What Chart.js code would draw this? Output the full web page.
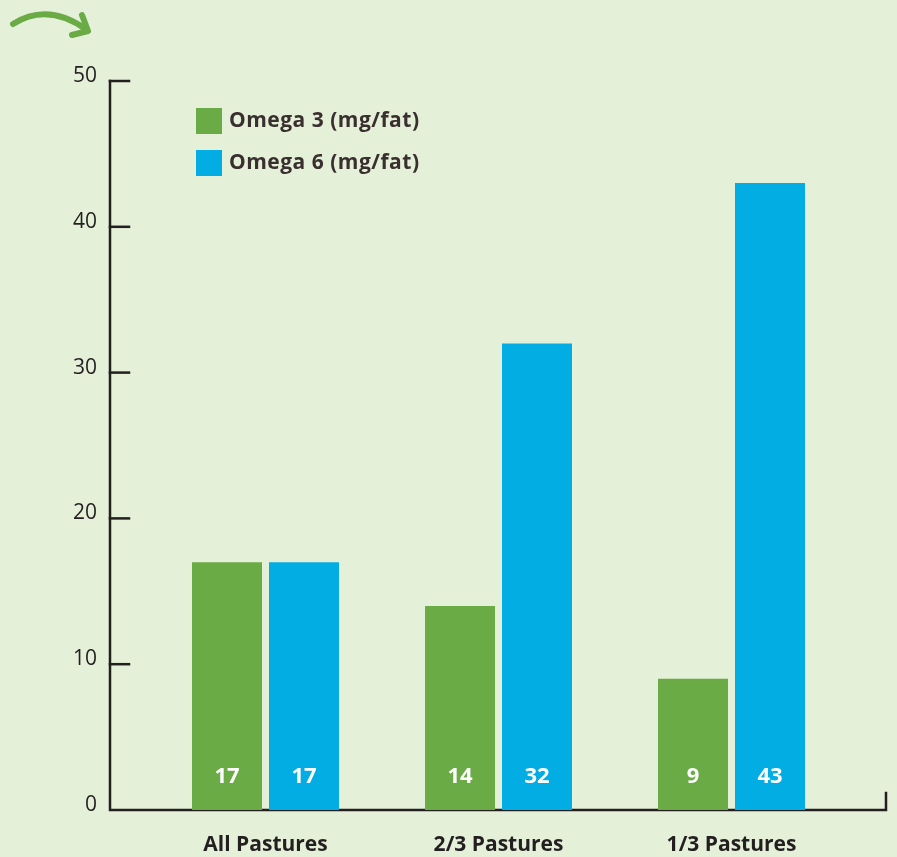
<!DOCTYPE html>
<html>
<head>
<meta charset="utf-8">
<script src="https://cdn.jsdelivr.net/npm/chart.js@4.4.1/dist/chart.umd.min.js"></script>
<style>
html, body { margin: 0; padding: 0; background: #e5f0d8; }
#wrap { width: 897px; height: 857px; }
</style>
</head>
<body>
<div id="wrap"><canvas id="myChart" width="897" height="857"></canvas></div>
<script>
// data
var categories = ['All Pastures', '2/3 Pastures', '1/3 Pastures'];
var omega3 = [17, 14, 9];
var omega6 = [17, 32, 43];
var seriesNames = ['Omega 3 (mg/fat)', 'Omega 6 (mg/fat)'];
var yTicks = [0, 10, 20, 30, 40, 50];

var GREEN = '#6aab45';
var BLUE = '#02ade3';
var INK = '#231f20';
var FONT = '"Open Sans", Lato, sans-serif';

// background + the little arrow in the corner
var backdrop = {
    id: 'backdrop',
    beforeDraw: function (chart) {
        var c = chart.ctx;
        c.save();
        c.fillStyle = '#e5f0d8';
        c.fillRect(0, 0, chart.width, chart.height);
        c.strokeStyle = GREEN;
        c.lineWidth = 6;
        c.lineCap = 'round';
        c.lineJoin = 'round';
        c.beginPath();
        c.moveTo(13, 24);
        c.quadraticCurveTo(48, 2, 87, 30);
        c.stroke();
        c.beginPath();
        c.moveTo(82, 15);
        c.lineTo(88, 31);
        c.lineTo(72, 35);
        c.stroke();
        c.restore();
    }
};

// axis lines drawn outside the plot box, like the original
var axes = {
    id: 'axes',
    beforeDatasetsDraw: function (chart) {
        var c = chart.ctx, y = chart.scales.y, a = chart.chartArea;
        var left = a.left - 39, right = a.right + 38;
        var y0 = y.getPixelForValue(0), yTop = y.getPixelForValue(50);
        c.save();
        c.strokeStyle = INK;
        c.lineWidth = 2.5;
        c.lineCap = 'square';
        c.beginPath();
        c.moveTo(left, yTop);
        c.lineTo(left, y0);
        c.lineTo(right, y0);
        c.lineTo(right, y0 - 17);
        c.stroke();
        yTicks.forEach(function (v) {
            if (v === 0) return;
            var py = y.getPixelForValue(v);
            c.beginPath();
            c.moveTo(left, py);
            c.lineTo(left + 19, py);
            c.stroke();
        });
        c.restore();
    }
};

// white numbers near the foot of each bar
var barValues = {
    id: 'barValues',
    afterDatasetsDraw: function (chart) {
        var c = chart.ctx;
        c.save();
        c.fillStyle = '#ffffff';
        c.font = 'bold 22px ' + FONT;
        c.textAlign = 'center';
        c.textBaseline = 'middle';
        chart.data.datasets.forEach(function (ds, i) {
            chart.getDatasetMeta(i).data.forEach(function (bar, j) {
                c.fillText(String(ds.data[j]), bar.x, bar.base - 33);
            });
        });
        c.restore();
    }
};

// legend in the top left of the plot
var boxLegend = {
    id: 'boxLegend',
    afterDraw: function (chart) {
        var c = chart.ctx, a = chart.chartArea;
        c.save();
        c.font = 'bold 21px ' + FONT;
        c.letterSpacing = '0.5px';
        c.textBaseline = 'middle';
        chart.data.datasets.forEach(function (ds, i) {
            var x = a.left + 47, y = a.top + 27 + i * 42;
            c.fillStyle = ds.backgroundColor;
            c.fillRect(x, y, 26, 26);
            c.fillStyle = '#3a2f2f';
            c.fillText(ds.label, x + 33, y + 13);
        });
        c.restore();
    }
};

var config = {
    type: 'bar',
    data: {
        labels: categories,
        datasets: [{
            label: seriesNames[0],
            data: omega3,
            backgroundColor: GREEN,
            barPercentage: 0.909,
            categoryPercentage: 0.661
        }, {
            label: seriesNames[1],
            data: omega6,
            backgroundColor: BLUE,
            barPercentage: 0.909,
            categoryPercentage: 0.661
        }]
    },
    options: {
        responsive: false,
        animation: false,
        layout: { padding: { top: 81, right: 49, left: 0, bottom: 0 } },
        plugins: {
            legend: { display: false },
            tooltip: { enabled: false }
        },
        scales: {
            x: {
                grid: { display: false, drawTicks: false },
                border: { display: false },
                ticks: {
                    color: INK,
                    font: { family: FONT, size: 21, weight: 'bold' },
                    padding: 22
                },
                afterFit: function (s) { s.height = 47; }
            },
            y: {
                min: 0,
                max: 50,
                afterBuildTicks: function (s) {
                    s.ticks = yTicks.map(function (v) { return { value: v }; });
                },
                grid: { display: false, drawTicks: false },
                border: { display: false },
                ticks: {
                    color: INK,
                    font: { family: FONT, size: 21 },
                    padding: 52,
                    labelOffset: -5
                },
                afterFit: function (s) {
                    s.width = 149;
                    // tick padding would otherwise push the plot up
                    s.paddingTop = 0;
                    s.paddingBottom = 0;
                }
            }
        }
    },
    plugins: [backdrop, axes, barValues, boxLegend]
};

var ctx = document.getElementById('myChart').getContext('2d');
var myChart = new Chart(ctx, config);
</script>
</body>
</html>
